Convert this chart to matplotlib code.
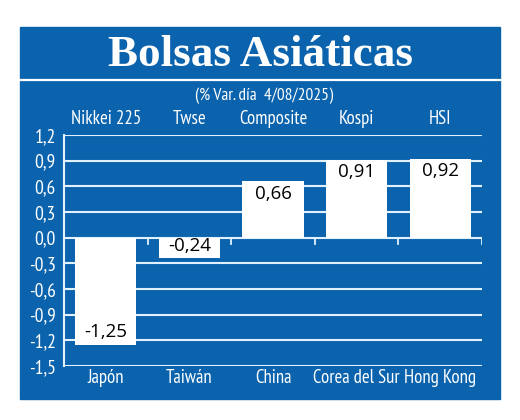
import matplotlib.pyplot as plt
import matplotlib.patches as mpatches
from matplotlib import font_manager
import numpy as np

indices = ['Nikkei 225', 'Twse', 'Composite', 'Kospi', 'HSI']
countries = ['Japón', 'Taiwán', 'China', 'Corea del Sur', 'Hong Kong']
values = [-1.25, -0.24, 0.66, 0.91, 0.92]
yticks = [-1.5, -1.2, -0.9, -0.6, -0.3, 0.0, 0.3, 0.6, 0.9, 1.2]

blue = '#0B63AE'
grid_c = '#E2F1FF'

# pick a condensed sans font that is installed
installed = set(f.name for f in font_manager.fontManager.ttflist)
candidates = ['PT Sans Narrow', 'Liberation Sans Narrow', 'Roboto Condensed', 'Open Sans Condensed',
              'Fira Sans Condensed', 'Archivo Narrow', 'Asap Condensed', 'Encode Sans Condensed',
              'Ubuntu Condensed', 'Barlow Semi Condensed', 'Arial Narrow']
narrow_name = next((c for c in candidates if c in installed), 'DejaVu Sans')
narrow = [narrow_name, 'DejaVu Sans']
serif = 'Liberation Serif'

fig = plt.figure(figsize=(5.2, 4.2), dpi=100)
fig.patch.set_facecolor('white')

# blue panel
bg = fig.add_axes([0, 0, 1, 1], zorder=-5)
bg.set_xlim(0, 520)
bg.set_ylim(420, 0)
bg.axis('off')
bg.add_patch(mpatches.Rectangle((20, 27), 480, 372, color=blue))
bg.plot([20, 500], [80, 80], color='white', lw=1.6)

bg.text(261, 55, 'Bolsas Asiáticas', ha='center', va='center', color='white',
        fontsize=32.5, fontweight='bold', family=serif)
bg.text(264, 96, '(% Var. día  4/08/2025)', ha='center', va='center', color='white',
        fontsize=12.5, family=narrow)

ax = fig.add_axes([64/520, 1-366/420, 418/520, 231/420])
ax.set_facecolor('none')
x = np.arange(len(values))
ax.set_xlim(-0.5, len(values) - 0.5)
ax.set_ylim(-1.5, 1.2)

for y in yticks:
    ax.axhline(y, color=grid_c, lw=1.5, zorder=1)
# small ticks at category boundaries on the zero line
for b in np.arange(0.5, len(values), 1.0):
    ax.plot([b, b], [0, -0.07], color=grid_c, lw=1.3, zorder=1)

ax.bar(x, values, width=0.73, color='white', zorder=2)
for xi, v in zip(x, values):
    lab = f'{v:.2f}'.replace('.', ',')
    if v >= 0:
        ax.text(xi, v - 0.04, lab, ha='center', va='top', fontsize=13.5, color='black',
                family=['Open Sans', 'DejaVu Sans'], zorder=3)
    else:
        ax.text(xi, v + 0.04, lab, ha='center', va='bottom', fontsize=13.5, color='black',
                family=['Open Sans', 'DejaVu Sans'], zorder=3)

for s in ['top', 'right', 'bottom']:
    ax.spines[s].set_visible(False)
ax.spines['left'].set_color(grid_c)
ax.spines['left'].set_linewidth(1.5)

ax.set_yticks(yticks)
ax.set_yticklabels([f'{t:.1f}'.replace('.', ',') for t in yticks], color='white',
                   fontsize=14, family=narrow)
ax.tick_params(axis='y', length=0, pad=6)
ax.set_xticks(x)
ax.set_xticklabels(countries, color='white', fontsize=13.5, family=narrow)
ax.tick_params(axis='x', length=0, pad=2)

for xi, name in zip(x, indices):
    ax.text(xi, 1.2 + 0.08, name, ha='center', va='bottom', color='white', fontsize=13.5,
            family=narrow)

fig.savefig('out.png', dpi=100)
